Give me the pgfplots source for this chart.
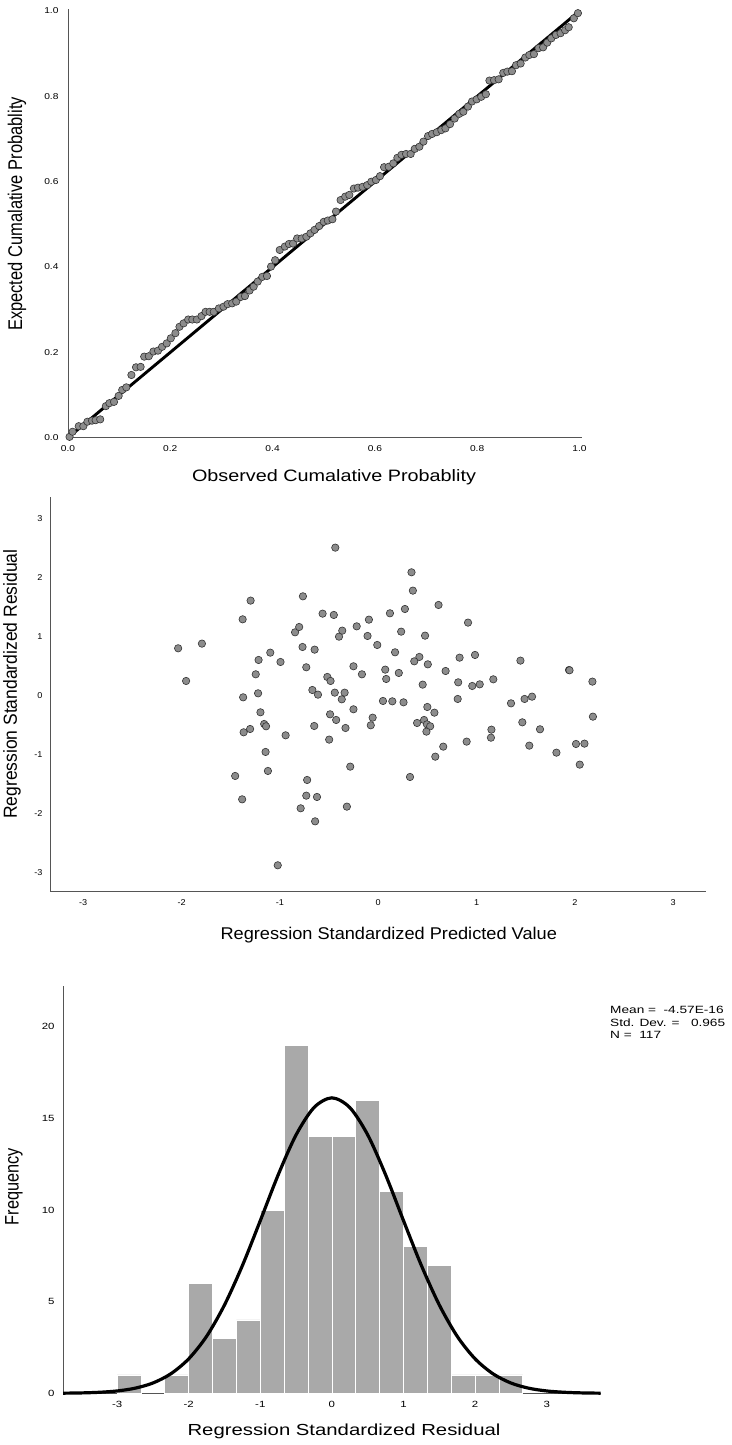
\documentclass[border=0pt]{standalone}
\usepackage{fontspec}
\setmainfont{Liberation Sans}
\usepackage{graphicx}
\usepackage{pgfplots}
\pgfplotsset{compat=1.18}
\newfontfamily\fA[FakeStretch=1.2]{Liberation Sans}
\newfontfamily\fB[FakeStretch=1.07]{Liberation Sans}
\newfontfamily\fC[FakeStretch=1.27]{Liberation Sans}
\newfontfamily\fL[FakeStretch=1.3]{Liberation Sans}
\definecolor{markgray}{HTML}{8C8C8C}
\definecolor{markedge}{HTML}{333333}
\definecolor{bargray}{HTML}{A9A9A9}
\definecolor{axisgray}{HTML}{555555}
\pgfplotsset{
  base/.style={
    scale only axis, anchor=south west,
    axis lines=left, axis line style={-, draw=axisgray, line width=1pt},
    major tick length=0pt, clip=false,
  },
  dots/.style={only marks, mark=*, mark size=3.7pt,
    mark options={fill=markgray, draw=markedge, line width=0.6pt}},
}
\begin{document}
\begin{tikzpicture}
\useasboundingbox (0,0) rectangle (731pt,-1445pt);
% ---------------- Panel 1: P-P plot
\begin{axis}[base, at={(68pt,-437.7pt)}, width=513.5pt, height=428.8pt,
  xmin=0, xmax=1.004, ymin=0, ymax=1.005,
  xtick={0,0.2,0.4,0.6,0.8,1}, xticklabels={0.0,0.2,0.4,0.6,0.8,1.0},
  ytick={0,0.2,0.4,0.6,0.8,1}, yticklabels={0.0,0.2,0.4,0.6,0.8,1.0},
  xticklabel style={font=\fA\fontsize{8.5}{10}\selectfont, yshift=-4pt},
  yticklabel style={font=\fA\fontsize{8.5}{10}\selectfont, xshift=-6pt},
  xlabel={Observed Cumalative Probablity},
  xlabel style={at={(axis description cs:0.518,-0.0917)}, anchor=center, font=\fA\fontsize{16.5}{18}\selectfont},
  ylabel={\scalebox{1}[1.2]{Expected Cumalative Probablity}},
  ylabel style={at={(axis description cs:-0.0993,0.5217)}, anchor=center, font=\fontsize{16.5}{18}\selectfont},
]
\addplot[dots] coordinates {
(0.003,0.002) (0.009,0.014) (0.021,0.027) (0.030,0.027) (0.038,0.0375) (0.047,0.040)
(0.054,0.041) (0.063,0.043) (0.074,0.074) (0.081,0.081) (0.090,0.084) (0.099,0.098)
(0.106,0.112) (0.114,0.118) (0.124,0.147) (0.133,0.165) (0.142,0.166) (0.149,0.190)
(0.158,0.191) (0.167,0.202) (0.176,0.204) (0.184,0.213) (0.193,0.221) (0.201,0.233)
(0.210,0.245) (0.218,0.260) (0.226,0.268) (0.235,0.277) (0.243,0.277) (0.252,0.277)
(0.261,0.285) (0.269,0.295) (0.277,0.295) (0.285,0.295) (0.295,0.303) (0.304,0.307)
(0.312,0.313) (0.321,0.315) (0.329,0.319) (0.338,0.330) (0.346,0.332) (0.355,0.345)
(0.363,0.354) (0.371,0.366) (0.380,0.377) (0.389,0.379) (0.397,0.401) (0.405,0.416)
(0.414,0.440) (0.424,0.448) (0.432,0.454) (0.440,0.455) (0.448,0.467) (0.457,0.467)
(0.466,0.471) (0.474,0.479) (0.482,0.487) (0.491,0.496) (0.500,0.506) (0.508,0.509)
(0.517,0.512) (0.524,0.530) (0.533,0.557) (0.542,0.565) (0.550,0.569) (0.559,0.584)
(0.567,0.586) (0.576,0.588) (0.585,0.592) (0.593,0.600) (0.602,0.604) (0.610,0.613)
(0.618,0.634) (0.627,0.635) (0.636,0.643) (0.644,0.656) (0.652,0.663) (0.661,0.665)
(0.670,0.665) (0.678,0.677) (0.687,0.682) (0.695,0.694) (0.704,0.707) (0.712,0.712)
(0.721,0.716) (0.730,0.721) (0.738,0.725) (0.747,0.735) (0.756,0.748) (0.765,0.759)
(0.773,0.764) (0.782,0.776) (0.790,0.788) (0.799,0.793) (0.808,0.799) (0.817,0.805)
(0.824,0.837) (0.833,0.838) (0.842,0.840) (0.851,0.855) (0.859,0.858) (0.868,0.859)
(0.876,0.873) (0.885,0.877) (0.894,0.891) (0.902,0.897) (0.911,0.899) (0.920,0.913)
(0.929,0.915) (0.937,0.926) (0.945,0.936) (0.954,0.944) (0.963,0.948) (0.972,0.955)
(0.979,0.962) (0.989,0.983) (0.997,0.995)
};
\addplot[black, line width=2.9pt] coordinates {(0,0) (1,1)};
\end{axis}
% ---------------- Panel 2: scatter
\begin{axis}[base, at={(50.5pt,-891pt)}, width=655.5pt, height=394pt,
  xmin=-3.333, xmax=3.333, ymin=-3.317, ymax=3.361,
  xtick={-3,-2,-1,0,1,2,3}, xticklabels={-3,-2,-1,0,1,2,3},
  ytick={-3,-2,-1,0,1,2,3}, yticklabels={-3,-2,-1,0,1,2,3},
  xticklabel style={font=\fB\fontsize{8.5}{10}\selectfont, yshift=-5pt},
  yticklabel style={font=\fB\fontsize{8.5}{10}\selectfont, xshift=-4.5pt},
  xlabel={Regression Standardized Predicted Value},
  xlabel style={at={(axis description cs:0.516,-0.1117)}, anchor=center, font=\fB\fontsize{17}{19}\selectfont},
  ylabel={\scalebox{1}[1.08]{Regression Standardized Residual}},
  ylabel style={at={(axis description cs:-0.0587,0.525)}, anchor=center, font=\fontsize{17.5}{19}\selectfont},
]
\addplot[dots] coordinates {
(-2.035,0.797) (-1.954,0.243) (-1.793,0.876) (-1.298,1.605) (-1.379,1.288) (-1.217,0.599)
(-1.246,0.356) (-1.098,0.723) (-0.994,0.565) (-1.222,0.034) (-1.374,-0.034) (-1.198,-0.288)
(-1.303,-0.571) (-1.369,-0.627) (-1.160,-0.486) (-1.141,-0.525) (-0.942,-0.678) (-1.146,-0.960)
(-1.122,-1.282) (-1.455,-1.367) (-1.384,-1.763) (-1.022,-2.881) (-0.846,1.068) (-0.804,1.158)
(-0.766,1.678) (-0.770,0.819) (-0.732,0.475) (-0.647,0.774) (-0.566,1.384) (-0.452,1.362)
(-0.437,2.503) (-0.399,0.994) (-0.366,1.096) (-0.219,1.169) (-0.095,1.282) (-0.109,1.006)
(-0.010,0.853) (-0.252,0.492) (-0.166,0.356) (-0.518,0.311) (-0.485,0.243) (-0.670,0.090)
(-0.613,0.011) (-0.442,0.045) (-0.342,0.045) (-0.371,-0.068) (-0.252,-0.237) (-0.490,-0.322)
(-0.428,-0.418) (-0.057,-0.379) (-0.076,-0.508) (-0.333,-0.554) (-0.651,-0.520) (-0.499,-0.751)
(-0.285,-1.209) (-0.723,-1.435) (-0.732,-1.701) (-0.623,-1.723) (-0.789,-1.915) (-0.319,-1.887)
(-0.642,-2.136) (0.119,1.390) (0.271,1.463) (0.338,2.085) (0.352,1.774) (0.233,1.079)
(0.171,0.729) (0.071,0.435) (0.081,0.277) (0.209,0.379) (0.048,-0.096) (0.143,-0.102)
(0.257,-0.119) (0.476,1.011) (0.418,0.650) (0.366,0.576) (0.504,0.525) (0.613,1.531)
(0.685,0.412) (0.452,0.181) (0.395,-0.469) (0.466,-0.418) (0.495,-0.492) (0.528,-0.525)
(0.499,-0.198) (0.571,-0.294) (0.490,-0.616) (0.661,-0.870) (0.580,-1.040) (0.323,-1.384)
(0.913,1.232) (0.827,0.638) (0.984,0.684) (0.813,0.220) (0.956,0.158) (1.032,0.186)
(0.808,-0.062) (0.899,-0.785) (1.170,0.271) (1.151,-0.582) (1.146,-0.718) (1.350,-0.136)
(1.446,0.588) (1.488,-0.062) (1.564,-0.023) (1.465,-0.458) (1.645,-0.576) (1.536,-0.853)
(1.812,-0.972) (1.940,0.429) (1.945,0.424) (2.178,0.232) (2.183,-0.362) (2.011,-0.825)
(2.097,-0.819) (2.049,-1.175)
};
\end{axis}
% ---------------- Panel 3: histogram
\begin{axis}[base, at={(63.1pt,-1393.3pt)}, width=537.6pt, height=407.3pt,
  xmin=-3.754, xmax=3.754, ymin=0, ymax=22.22,
  xtick={-3,-2,-1,0,1,2,3}, xticklabels={-3,-2,-1,0,1,2,3},
  ytick={0,5,10,15,20}, yticklabels={0,5,10,15,20},
  xticklabel style={font=\fC\fontsize{9}{10}\selectfont, yshift=-4pt},
  yticklabel style={font=\fC\fontsize{9}{10}\selectfont, xshift=-5pt},
  xlabel={Regression Standardized Residual},
  xlabel style={at={(axis description cs:0.5225,-0.0943)}, anchor=center, font=\fC\fontsize{16}{18}\selectfont},
  ylabel={\scalebox{1}[1.2]{Frequency}},
  ylabel style={at={(axis description cs:-0.0913,0.507)}, anchor=center, font=\fontsize{16.3}{18}\selectfont},
]
\addplot[ybar, bar width=0.3333, fill=bargray, draw=white, line width=0.8pt] coordinates {
(-2.8333,1) (-2.1667,1) (-1.8333,6) (-1.5,3) (-1.1667,4) (-0.8333,10) (-0.5,19)
(-0.1667,14) (0.1667,14) (0.5,16) (0.8333,11) (1.1667,8) (1.5,7) (1.8333,1) (2.1667,1) (2.5,1)
};
\addplot[black, line width=3.2pt, smooth] coordinates {
(-3.754,0.008) (-3.5,0.022) (-3.25,0.056) (-3.0,0.128) (-2.75,0.278) (-2.5,0.562)
(-2.25,1.064) (-2.0,1.88) (-1.75,3.11) (-1.5,4.82) (-1.25,6.97) (-1.0,9.42)
(-0.75,11.92) (-0.5,14.10) (-0.25,15.59) (0,16.12) (0.25,15.59) (0.5,14.10)
(0.75,11.92) (1.0,9.42) (1.25,6.97) (1.5,4.82) (1.75,3.11) (2.0,1.88)
(2.25,1.064) (2.5,0.562) (2.75,0.278) (3.0,0.128) (3.25,0.056) (3.5,0.022) (3.754,0.008)
};
\node[anchor=north west, align=left, inner sep=0pt, font=\fL\fontsize{10.5}{12.5}\selectfont]
  at (axis description cs:1.0173,0.951)
  {Mean =\ \ -4.57E-16\\Std. Dev. =\ \ \ 0.965\\N =\ \ 117};
\end{axis}
\end{tikzpicture}
\end{document}
